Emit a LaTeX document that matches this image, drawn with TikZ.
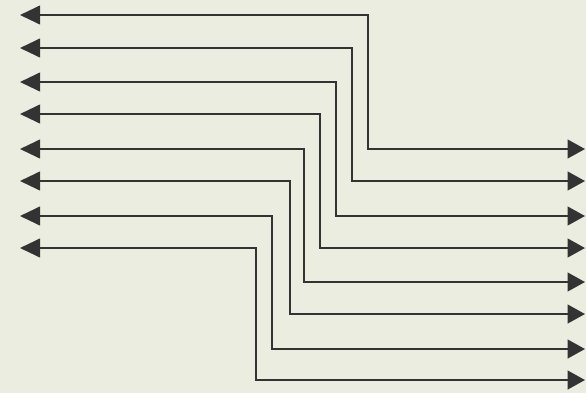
\documentclass[tikz,border=0pt]{standalone}
\usetikzlibrary{arrows.meta}
\definecolor{paper}{HTML}{ECEDE1}
\definecolor{linegray}{HTML}{333333}
\begin{document}
\begin{tikzpicture}[x=0.75pt, y=-0.75pt,
  bus/.style={draw=linegray, line width=1.5pt, line join=miter,
    {Triangle[length=15pt, width=14pt]}-{Triangle[length=13pt, width=14pt]}}]
\fill[paper] (0,0) rectangle (586,393);
\useasboundingbox (0,0) rectangle (586,393);
% each line: left end, bend, right end
\foreach \i/\x/\ya/\yb in {1/368/15/149, 2/352/48/181, 3/336/82/216, 4/320/114/248,
                           5/304/149/282, 6/290/181/314, 7/272/216/349, 8/256/248/380} {
  \coordinate (l\i) at (20,\ya);
  \coordinate (b\i) at (\x,\yb);
  \coordinate (r\i) at (585,\yb);
  \draw[bus] (l\i) -| (b\i) -- (r\i);
}
\end{tikzpicture}
\end{document}
